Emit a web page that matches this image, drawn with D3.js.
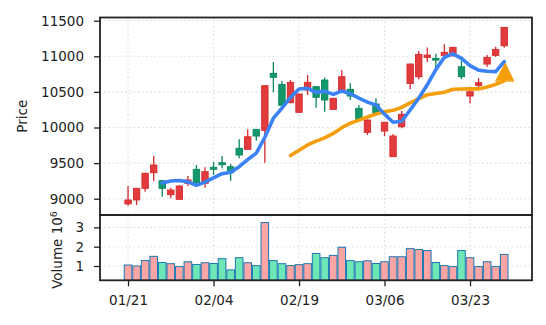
<!DOCTYPE html>
<html>
<head>
<meta charset="utf-8">
<script src="https://cdn.jsdelivr.net/npm/d3@7"></script>
<style>
  body { margin: 0; background: #fff; }
  svg { display: block; }
  text { font-family: "DejaVu Sans", sans-serif; }
</style>
</head>
<body>
<svg id="chart" width="546" height="325"></svg>
<script>
// Daily OHLC prices
const opens  = [8926, 8982, 9146, 9365, 9253, 9056, 8991, 9216, 9413, 9216,
                9441, 9505, 9449, 9708, 9694, 9974, 9960, 10761, 10606, 10348,
                10213, 10526, 10573, 10667, 10255, 10516, 10536, 10269, 9932, 10330,
                9950, 9590, 10011, 10620, 10713, 10985, 10971, 11013, 11041, 10853,
                10442, 10592, 10891, 11013, 11148];
const highs  = [9178, 9150, 9366, 9600, 9262, 9154, 9190, 9319, 9473, 9441,
                9515, 9600, 9487, 9834, 9974, 9980, 10595, 10919, 10652, 10666,
                10478, 10737, 10580, 10704, 10418, 10807, 10620, 10316, 10112, 10410,
                10080, 9908, 10231, 10898, 11074, 11125, 11032, 11168, 11134, 10937,
                10573, 10690, 11017, 11134, 11412];
const lows   = [8902, 8912, 9098, 9249, 9028, 9005, 8985, 9178, 9178, 9154,
                9333, 9427, 9253, 9567, 9690, 9814, 9505, 10494, 10305, 10340,
                10205, 10456, 10278, 10221, 10248, 10510, 10386, 10110, 9894, 10175,
                9880, 9585, 9988, 10536, 10676, 10915, 10845, 10994, 10994, 10680,
                10339, 10564, 10853, 10994, 11120];
const closes = [8982, 9146, 9357, 9473, 9146, 9122, 9178, 9263, 9225, 9379,
                9413, 9477, 9365, 9613, 9870, 9880, 10587, 10705, 10311, 10634,
                10470, 10634, 10424, 10386, 10410, 10713, 10442, 10115, 10105, 10199,
                10073, 9880, 10185, 10891, 11027, 11017, 10947, 11055, 11125, 10713,
                10502, 10629, 10985, 11097, 11406];
// Daily volume (shares)
const volumes = [1.05e6, 1.00e6, 1.28e6, 1.50e6, 1.18e6, 1.12e6, 0.97e6, 1.22e6, 1.08e6, 1.17e6,
                 1.13e6, 1.38e6, 0.80e6, 1.43e6, 1.17e6, 1.02e6, 3.25e6, 1.28e6, 1.12e6, 1.02e6,
                 1.07e6, 1.12e6, 1.65e6, 1.43e6, 1.55e6, 1.97e6, 1.28e6, 1.22e6, 1.27e6, 1.13e6,
                 1.22e6, 1.48e6, 1.48e6, 1.90e6, 1.85e6, 1.80e6, 1.18e6, 1.02e6, 0.97e6, 1.80e6,
                 1.43e6, 0.97e6, 1.22e6, 0.97e6, 1.60e6];
// Moving averages (null before enough history)
const ma5 = [null, null, null, null,
             9221, 9249, 9255, 9236, 9187, 9233, 9292, 9351, 9372, 9449,
             9548, 9641, 9863, 10131, 10271, 10423, 10541, 10551, 10495, 10510,
             10465, 10513, 10475, 10413, 10357, 10315, 10187, 10074, 10088, 10246,
             10411, 10600, 10813, 10987, 11034, 10971, 10868, 10805, 10791, 10785, 10924];
const ma20 = [null, null, null, null, null, null, null, null, null, null,
              null, null, null, null, null, null, null, null, null,
              9606, 9681, 9755, 9808, 9854, 9917, 9997, 10060, 10103, 10147, 10188,
              10221, 10241, 10282, 10346, 10404, 10460, 10478, 10496, 10537, 10541,
              10542, 10542, 10570, 10606, 10655];
const tickIndex  = [0, 10, 20, 30, 40];
const tickLabels = ["01/21", "02/04", "02/19", "03/06", "03/23"];
const priceTicks  = [9000, 9500, 10000, 10500, 11000, 11500];
const volumeTicks = [1e6, 2e6, 3e6];

const UP = { fill: "#e23b3e", edge: "#d42a2d" };
const DOWN = { fill: "#14976b", edge: "#08875c" };
const VOL_UP = "#fca5a5", VOL_DOWN = "#6ee7b7", VOL_EDGE = "#1f77b4";

const svg = d3.select("#chart");
const left = 100, right = 532;
const pTop = 17.5, pBottom = 215, vBottom = 280.3;

const x = d3.scaleLinear().domain([-3.28, 47.25]).range([left, right]);
const yP = d3.scaleLinear().domain([8771, 11545]).range([pBottom, pTop]);
const yV = d3.scaleLinear().domain([0.26e6, 3.64e6]).range([vBottom, pBottom]);

const defs = svg.append("defs");
defs.append("clipPath").attr("id", "clipP").append("rect")
  .attr("x", left).attr("y", pTop).attr("width", right - left).attr("height", pBottom - pTop);
defs.append("clipPath").attr("id", "clipV").append("rect")
  .attr("x", left).attr("y", pBottom).attr("width", right - left).attr("height", vBottom - pBottom);

// dotted grid
const grid = svg.append("g").attr("stroke", "#dcdcdc").attr("stroke-width", 1.1)
  .attr("stroke-dasharray", "1.6,2.6");
grid.selectAll(".gx").data(tickIndex).join("line")
  .attr("x1", d => x(d)).attr("x2", d => x(d)).attr("y1", pTop).attr("y2", pBottom);
grid.selectAll(".gxv").data(tickIndex).join("line")
  .attr("x1", d => x(d)).attr("x2", d => x(d)).attr("y1", pBottom).attr("y2", vBottom);
grid.selectAll(".gy").data(priceTicks).join("line")
  .attr("x1", left).attr("x2", right).attr("y1", d => yP(d)).attr("y2", d => yP(d));
grid.selectAll(".gyv").data(volumeTicks).join("line")
  .attr("x1", left).attr("x2", right).attr("y1", d => yV(d)).attr("y2", d => yV(d));

// candles
const idx = d3.range(closes.length);
const candles = svg.append("g").attr("clip-path", "url(#clipP)");
const bw = 6.4;
const cg = candles.selectAll("g").data(idx).join("g");
cg.append("line")
  .attr("x1", i => x(i)).attr("x2", i => x(i))
  .attr("y1", i => yP(highs[i])).attr("y2", i => yP(lows[i]))
  .attr("stroke", i => closes[i] >= opens[i] ? UP.edge : DOWN.edge)
  .attr("stroke-width", 1.3);
cg.append("rect")
  .attr("x", i => x(i) - bw / 2)
  .attr("width", bw)
  .attr("y", i => yP(Math.max(opens[i], closes[i])))
  .attr("height", i => Math.max(1, yP(Math.min(opens[i], closes[i])) - yP(Math.max(opens[i], closes[i]))))
  .attr("fill", i => closes[i] >= opens[i] ? UP.fill : DOWN.fill)
  .attr("stroke", i => closes[i] >= opens[i] ? UP.edge : DOWN.edge)
  .attr("stroke-width", 0.9);

// moving averages
const line = d3.line().defined(d => d != null).x((d, i) => x(i)).y(d => yP(d));
const lines = svg.append("g").attr("clip-path", "url(#clipP)").attr("fill", "none")
  .attr("stroke-linejoin", "round").attr("stroke-linecap", "round");
lines.append("path").datum(ma20).attr("d", line).attr("stroke", "#f59e0b").attr("stroke-width", 3.6);
lines.append("path").datum(ma5).attr("d", line).attr("stroke", "#3b82f6").attr("stroke-width", 3.6);
// arrow head at the end of the MA20 line
const last = ma20.length - 1;
const ax = x(last), ay = yP(ma20[last]);
lines.append("path")
  .attr("d", `M${ax - 8.5},${ay} L${ax + 1},${ay - 17.5} L${ax + 9.5},${ay} Z`)
  .attr("fill", "#f59e0b").attr("stroke", "#f59e0b").attr("stroke-width", 1);

// volume bars
const vw = 7.6;
svg.append("g").attr("clip-path", "url(#clipV)")
  .selectAll("rect").data(idx).join("rect")
  .attr("x", i => x(i) - vw / 2)
  .attr("width", vw)
  .attr("y", i => yV(volumes[i]))
  .attr("height", i => yV(0.26e6) - yV(volumes[i]))
  .attr("fill", i => closes[i] >= opens[i] ? VOL_UP : VOL_DOWN)
  .attr("stroke", VOL_EDGE).attr("stroke-width", 1);

// axes
function styleAxis(g) {
  g.select(".domain").remove();
  g.selectAll(".tick line").attr("stroke", "#222").attr("stroke-width", 1.3);
  g.selectAll(".tick text").attr("fill", "#222").style("font-size", "13.5px")
    .style("font-family", '"DejaVu Sans", sans-serif');
}
svg.append("g").attr("transform", `translate(${left},0)`)
  .call(d3.axisLeft(yP).tickValues(priceTicks).tickSize(6).tickPadding(10).tickFormat(d3.format("d")))
  .call(styleAxis);
svg.append("g").attr("transform", `translate(${left},0)`)
  .call(d3.axisLeft(yV).tickValues(volumeTicks).tickSize(6).tickPadding(10).tickFormat(d => d / 1e6))
  .call(styleAxis);
svg.append("g").attr("transform", `translate(0,${vBottom})`)
  .call(d3.axisBottom(x).tickValues(tickIndex).tickSize(6).tickPadding(9)
    .tickFormat((d, k) => tickLabels[k]))
  .call(styleAxis);

// frames
const frame = svg.append("g").attr("fill", "none").attr("stroke", "#222");
frame.append("rect").attr("x", left).attr("y", pTop).attr("width", right - left)
  .attr("height", pBottom - pTop).attr("stroke-width", 1.8);
frame.append("rect").attr("x", left).attr("y", pBottom).attr("width", right - left)
  .attr("height", vBottom - pBottom).attr("stroke-width", 1.8);

// axis titles
svg.append("text").attr("transform", `translate(22,${(pTop + pBottom) / 2}) rotate(-90)`)
  .attr("text-anchor", "middle").attr("dominant-baseline", "central")
  .style("font-size", "13.5px").attr("fill", "#222").text("Price");
const vt = svg.append("text").attr("transform", `translate(57,250) rotate(-90)`)
  .attr("text-anchor", "middle").attr("dominant-baseline", "central")
  .style("font-size", "13.5px").attr("fill", "#222");
vt.append("tspan").text("Volume  10");
vt.append("tspan").attr("dy", "-0.45em").style("font-size", "9.5px").text("6");
</script>
</body>
</html>
